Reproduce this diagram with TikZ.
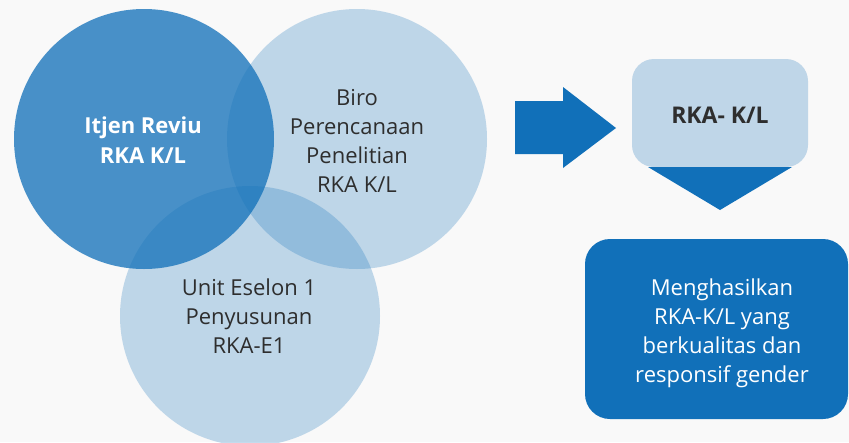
\documentclass[tikz,border=0pt]{standalone}
\usepackage{fontspec}
\setmainfont{Open Sans}
\definecolor{bgc}{HTML}{F9F9F9}
\definecolor{dblue}{HTML}{1170B9}
\definecolor{lblue}{HTML}{BFD6E8}
\definecolor{txt}{HTML}{2E2E2E}
\begin{document}
\begin{tikzpicture}[x=1pt,y=-1pt,
  circ/.style={circle, minimum size=260pt, inner sep=0pt, fill=dblue},
  lighttext/.style={font=\fontsize{22}{29}\selectfont, text=txt, align=center, anchor=base, inner sep=0pt},
  boldtext/.style={font=\bfseries\fontsize{22}{30}\selectfont, align=center, anchor=base, inner sep=0pt},
  whitetext/.style={font=\fontsize{22}{29}\selectfont, text=white, align=center, anchor=base, inner sep=0pt}]
\fill[bgc] (0,0) rectangle (849,442);
\useasboundingbox (0,0) rectangle (849,442);
\clip (0,0) rectangle (849,442);
% circles
\node[circ, fill opacity=0.25] (biro) at (357,139) {};
\node[circ, fill opacity=0.25] (unit) at (250,316) {};
\node[circ, fill opacity=0.76] (itjen) at (144,139) {};
\node[boldtext, text=white] (itjentxt) at (143,163) {Itjen Reviu\\RKA K/L};
\node[lighttext] (birotxt) at (357,192) {Biro\\Perencanaan\\Penelitian\\RKA K/L};
\node[lighttext] (unittxt) at (249,353) {Unit Eselon 1\\Penyusunan\\RKA-E1};
% block arrow
\fill[dblue] (515,101) -- (563,101) -- (563,87) -- (616,128) -- (563,168) -- (563,154) -- (515,154) -- cycle;
% RKA box with down arrow
\node[fill=lblue, rounded corners=22pt, minimum width=176pt, minimum height=108pt, inner sep=0pt] (rka) at (720,113) {};
\fill[dblue] (648,167) -- (792,167) -- (720,210) -- cycle;
\node[boldtext, text=txt, font=\bfseries\fontsize{23}{30}\selectfont] (rkatxt) at (720,123) {RKA- K/L};
% output box
\node[fill=dblue, rounded corners=25pt, minimum width=263pt, minimum height=180pt, inner sep=0pt] (out) at (716.5,329) {};
\node[whitetext] (outtxt) at (722,382) {Menghasilkan\\RKA-K/L yang\\berkualitas dan\\responsif gender};
\end{tikzpicture}
\end{document}
